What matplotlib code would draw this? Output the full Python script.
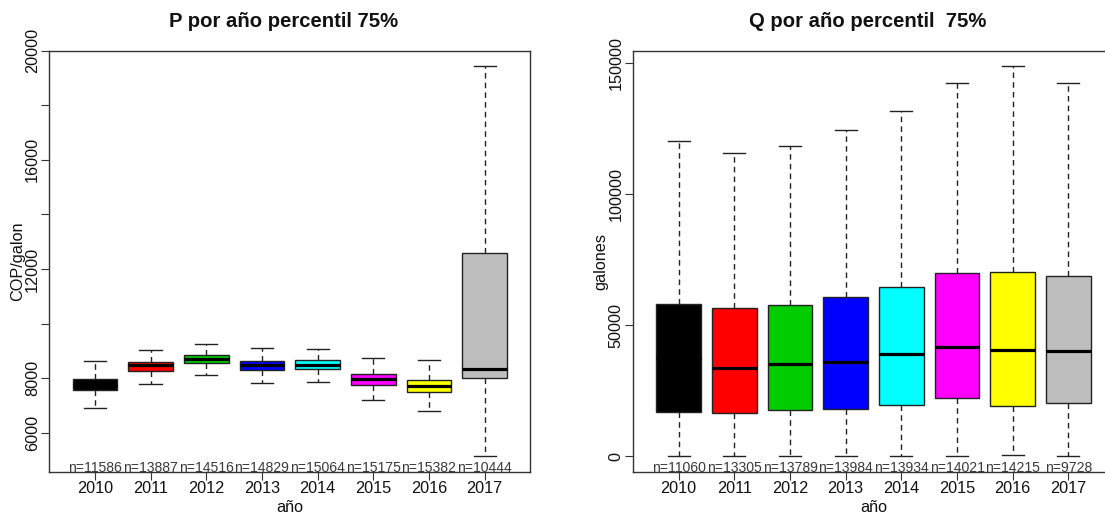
import matplotlib
matplotlib.use("Agg")
import matplotlib.pyplot as plt
from matplotlib.transforms import blended_transform_factory

plt.rcParams["font.family"] = ["Liberation Sans", "DejaVu Sans"]

YEARS = ["2010", "2011", "2012", "2013", "2014", "2015", "2016", "2017"]
FILLS = ["black", "red", "#00CD00", "blue", "cyan", "magenta", "yellow", "#BEBEBE"]

# precio (COP/galon) por año
P_LO = [6900, 7780, 8121, 7817, 7839, 7179, 6790, 5127]
P_Q1 = [7546, 8256, 8535, 8293, 8315, 7743, 7487, 8000]
P_MED = [7760, 8487, 8696, 8487, 8487, 7949, 7717, 8330]
P_Q3 = [7975, 8572, 8828, 8634, 8645, 8157, 7938, 12603]
P_HI = [8608, 9026, 9246, 9111, 9074, 8733, 8645, 19433]
P_N = [11586, 13887, 14516, 14829, 15064, 15175, 15382, 10444]
P_TICKS = [6000, 8000, 10000, 12000, 14000, 16000, 18000, 20000]
P_TICKLABELS = ["6000", "8000", "", "12000", "", "16000", "", "20000"]

# cantidad (galones) por año
Q_LO = [0, 0, 0, 0, 0, 0, 530, 0]
Q_Q1 = [16900, 16520, 17660, 18040, 19680, 22080, 19180, 20330]
Q_MED = [37500, 33500, 35170, 35780, 39090, 41760, 40500, 40240]
Q_Q3 = [58240, 56490, 57860, 60790, 64480, 69930, 70430, 68900]
Q_HI = [120060, 115720, 118270, 124250, 131600, 142370, 148610, 142140]
Q_N = [11060, 13305, 13789, 13984, 13934, 14021, 14215, 9728]
Q_TICKS = [0, 50000, 100000, 150000]
Q_TICKLABELS = ["0", "50000", "100000", "150000"]

W, H = 1105, 514
AX_W, AX_H = 481, 421.3
INK = "#111111"


def panel(left_px, lo, q1, med, q3, hi, counts, ticks, ticklabels, title, ylabel):
    ax = fig.add_axes([left_px / W, (H - 472) / H, AX_W / W, AX_H / H])
    stats = [dict(whislo=a, q1=b, med=c, q3=d, whishi=e, label=y)
             for a, b, c, d, e, y in zip(lo, q1, med, q3, hi, YEARS)]
    pos = list(range(1, len(YEARS) + 1))
    art = ax.bxp(stats, positions=pos, widths=0.8, capwidths=0.4,
                 patch_artist=True, showfliers=False,
                 boxprops=dict(edgecolor="#222222", linewidth=1.0),
                 medianprops=dict(color="black", linewidth=2.3),
                 whiskerprops=dict(color="#222222", linewidth=1.0,
                                   linestyle=(0, (4, 3))),
                 capprops=dict(color="#222222", linewidth=1.0))
    for box, c in zip(art["boxes"], FILLS):
        box.set_facecolor(c)

    span = max(hi) - min(lo)
    ax.set_ylim(min(lo) - 0.04 * span, max(hi) + 0.04 * span)
    ax.set_xlim(0.18, len(YEARS) + 0.82)

    ax.set_yticks(ticks)
    ax.set_yticklabels(ticklabels, rotation=90, va="center")
    ax.set_xticks(pos)
    ax.set_xticklabels(YEARS)
    ax.tick_params(axis="both", direction="out", length=6, width=0.8,
                   color="#333333", labelsize=11.7, labelcolor=INK, pad=0.8)
    for s in ax.spines.values():
        s.set_color("#333333")
        s.set_linewidth(1.0)

    # sample sizes along the bottom edge
    tr = blended_transform_factory(ax.transData, ax.transAxes)
    for x, n in zip(pos, counts):
        ax.text(x, 0.0, f"n={n}", transform=tr, ha="center", va="baseline",
                fontsize=10.1, color="#3a3a3a")

    ax.set_title(title, fontsize=14.6, fontweight="bold", color=INK, pad=17)
    ax.title.set_x(0.5 - 6 / AX_W)
    ax.set_xlabel("año", fontsize=11.7, color=INK)
    ax.xaxis.set_label_coords(0.5, -(507 - 472) / AX_H)
    ax.xaxis.label.set_va("center")
    ax.set_ylabel(ylabel, fontsize=11.7, color=INK)
    ax.yaxis.set_label_coords(-32 / AX_W, 0.5)
    ax.yaxis.label.set_va("center")
    return ax


fig = plt.figure(figsize=(W / 100, H / 100), dpi=100, facecolor="white")
panel(49.3, P_LO, P_Q1, P_MED, P_Q3, P_HI, P_N, P_TICKS, P_TICKLABELS,
      "P por año percentil 75%", "COP/galon")
panel(633, Q_LO, Q_Q1, Q_MED, Q_Q3, Q_HI, Q_N, Q_TICKS, Q_TICKLABELS,
      "Q por año percentil  75%", "galones")
fig.savefig("out.png", dpi=100, facecolor="white")
